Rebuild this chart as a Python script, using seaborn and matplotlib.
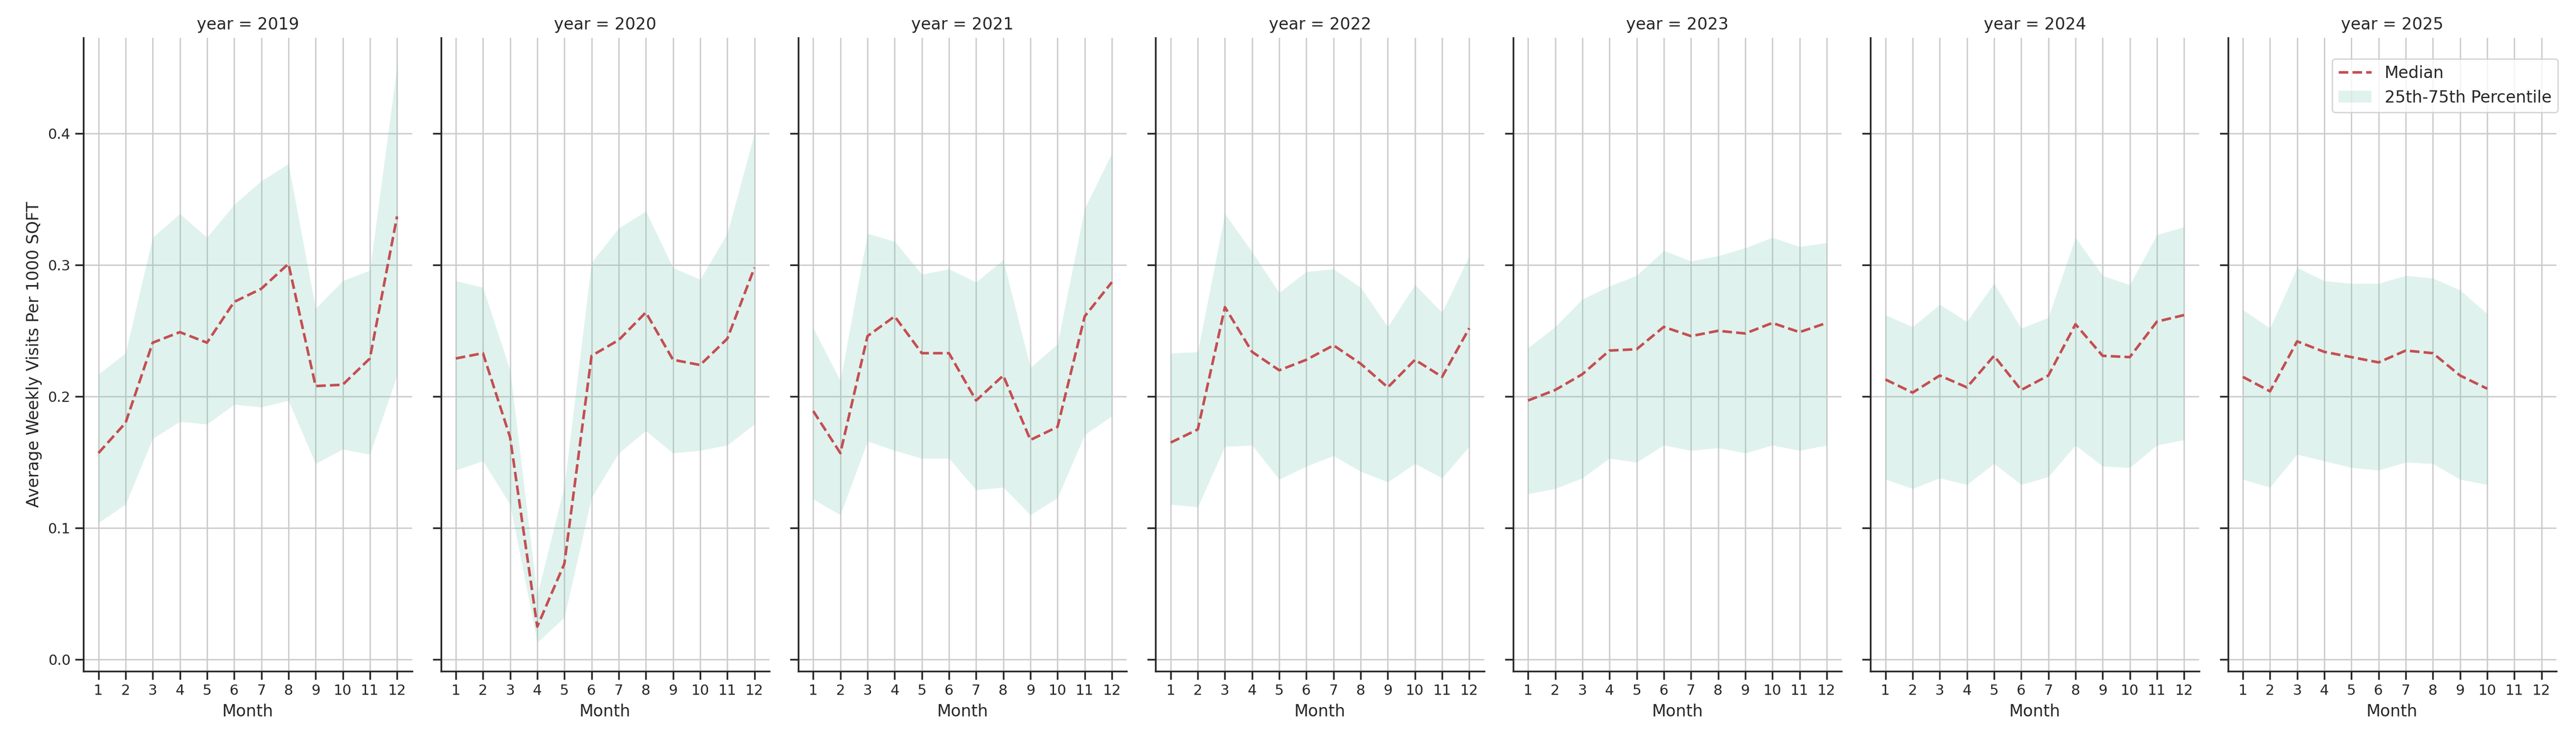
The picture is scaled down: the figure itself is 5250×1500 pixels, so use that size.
import numpy as np
import pandas as pd
import matplotlib
matplotlib.use("Agg")
import matplotlib.pyplot as plt
import seaborn as sns

years = [2019, 2020, 2021, 2022, 2023, 2024, 2025]

median_2019 = [0.157, 0.180, 0.241, 0.249, 0.241, 0.272, 0.282, 0.301, 0.208, 0.209, 0.229, 0.337]
q25_2019 = [0.104, 0.118, 0.168, 0.181, 0.179, 0.194, 0.192, 0.197, 0.149, 0.160, 0.156, 0.216]
q75_2019 = [0.217, 0.233, 0.321, 0.339, 0.321, 0.346, 0.364, 0.377, 0.267, 0.288, 0.296, 0.451]

median_2020 = [0.229, 0.233, 0.169, 0.025, 0.073, 0.231, 0.243, 0.264, 0.228, 0.224, 0.244, 0.298]
q25_2020 = [0.144, 0.151, 0.118, 0.013, 0.032, 0.123, 0.157, 0.174, 0.157, 0.159, 0.163, 0.179]
q75_2020 = [0.288, 0.283, 0.220, 0.049, 0.132, 0.302, 0.328, 0.341, 0.298, 0.289, 0.324, 0.400]

median_2021 = [0.189, 0.157, 0.246, 0.261, 0.233, 0.233, 0.197, 0.216, 0.167, 0.177, 0.261, 0.287]
q25_2021 = [0.122, 0.110, 0.166, 0.159, 0.153, 0.153, 0.129, 0.131, 0.110, 0.123, 0.171, 0.185]
q75_2021 = [0.252, 0.212, 0.324, 0.318, 0.293, 0.297, 0.287, 0.304, 0.222, 0.240, 0.343, 0.385]

median_2022 = [0.165, 0.175, 0.268, 0.234, 0.220, 0.228, 0.239, 0.225, 0.207, 0.228, 0.215, 0.252]
q25_2022 = [0.118, 0.116, 0.162, 0.163, 0.137, 0.147, 0.155, 0.143, 0.135, 0.149, 0.138, 0.162]
q75_2022 = [0.233, 0.234, 0.339, 0.310, 0.279, 0.295, 0.297, 0.283, 0.253, 0.285, 0.264, 0.307]

median_2023 = [0.197, 0.205, 0.217, 0.235, 0.236, 0.253, 0.246, 0.250, 0.248, 0.256, 0.249, 0.256]
q25_2023 = [0.126, 0.130, 0.138, 0.153, 0.150, 0.163, 0.159, 0.161, 0.157, 0.163, 0.159, 0.163]
q75_2023 = [0.237, 0.253, 0.274, 0.284, 0.292, 0.311, 0.303, 0.307, 0.313, 0.321, 0.314, 0.317]

median_2024 = [0.213, 0.203, 0.216, 0.207, 0.231, 0.205, 0.216, 0.255, 0.231, 0.230, 0.257, 0.262]
q25_2024 = [0.137, 0.130, 0.138, 0.133, 0.149, 0.133, 0.139, 0.163, 0.147, 0.146, 0.163, 0.167]
q75_2024 = [0.262, 0.253, 0.270, 0.257, 0.286, 0.252, 0.260, 0.321, 0.292, 0.285, 0.323, 0.329]

median_2025 = [0.215, 0.204, 0.242, 0.234, 0.230, 0.226, 0.235, 0.233, 0.216, 0.206]
q25_2025 = [0.137, 0.131, 0.156, 0.151, 0.146, 0.144, 0.150, 0.149, 0.137, 0.133]
q75_2025 = [0.266, 0.252, 0.298, 0.288, 0.286, 0.286, 0.292, 0.290, 0.281, 0.263]

medians = [median_2019, median_2020, median_2021, median_2022, median_2023, median_2024, median_2025]
q25s = [q25_2019, q25_2020, q25_2021, q25_2022, q25_2023, q25_2024, q25_2025]
q75s = [q75_2019, q75_2020, q75_2021, q75_2022, q75_2023, q75_2024, q75_2025]

month_ticks = list(range(1, 13))
y_ticks = [0.0, 0.1, 0.2, 0.3, 0.4]

rows = []
for y, med, lo, hi in zip(years, medians, q25s, q75s):
    for i, (m, l, h) in enumerate(zip(med, lo, hi)):
        rows.append({"year": y, "Month": i + 1, "median": m, "q25": l, "q75": h})
df = pd.DataFrame(rows)

sns.set_theme(context="notebook", style="ticks", rc={"axes.grid": True})
plt.rcParams["font.family"] = ["DejaVu Sans"]

LINE_COLOR = "#C44E52"
FILL_COLOR = "#66c2a5"
TICK_FS = 10.5
TEXT_FS = 12


def draw(data, **kws):
    ax = plt.gca()
    ax.fill_between(data["Month"], data["q25"], data["q75"], color=FILL_COLOR,
                    alpha=0.2, linewidth=0, label="25th-75th Percentile")
    sns.lineplot(data=data, x="Month", y="median", ax=ax, color=LINE_COLOR,
                 linestyle="--", linewidth=1.9, label="Median", legend=False)


g = sns.FacetGrid(df, col="year", height=7.5, aspect=0.5, sharex=True, sharey=True)
g.map_dataframe(draw)
g.set_axis_labels("Month", "Average Weekly Visits Per 1000 SQFT", fontsize=TEXT_FS)
g.set(yticks=y_ticks)
for ax in g.axes.flat:
    ax.set_xticks(month_ticks)
    ax.set_xticklabels([str(i) for i in month_ticks])
    ax.tick_params(axis="both", labelsize=TICK_FS)
    ax.title.set_fontsize(TEXT_FS)

last = g.axes.flat[-1]
handles, labels = last.get_legend_handles_labels()
order = [labels.index("Median"), labels.index("25th-75th Percentile")]
last.legend([handles[i] for i in order], [labels[i] for i in order],
            loc="upper right", bbox_to_anchor=(1.005, 0.967), borderaxespad=0,
            fontsize=TEXT_FS)

g.figure.subplots_adjust(left=0.0324, right=0.9924, top=0.9487, bottom=0.088, wspace=0.088)
g.figure.savefig("out.png", dpi=200)
